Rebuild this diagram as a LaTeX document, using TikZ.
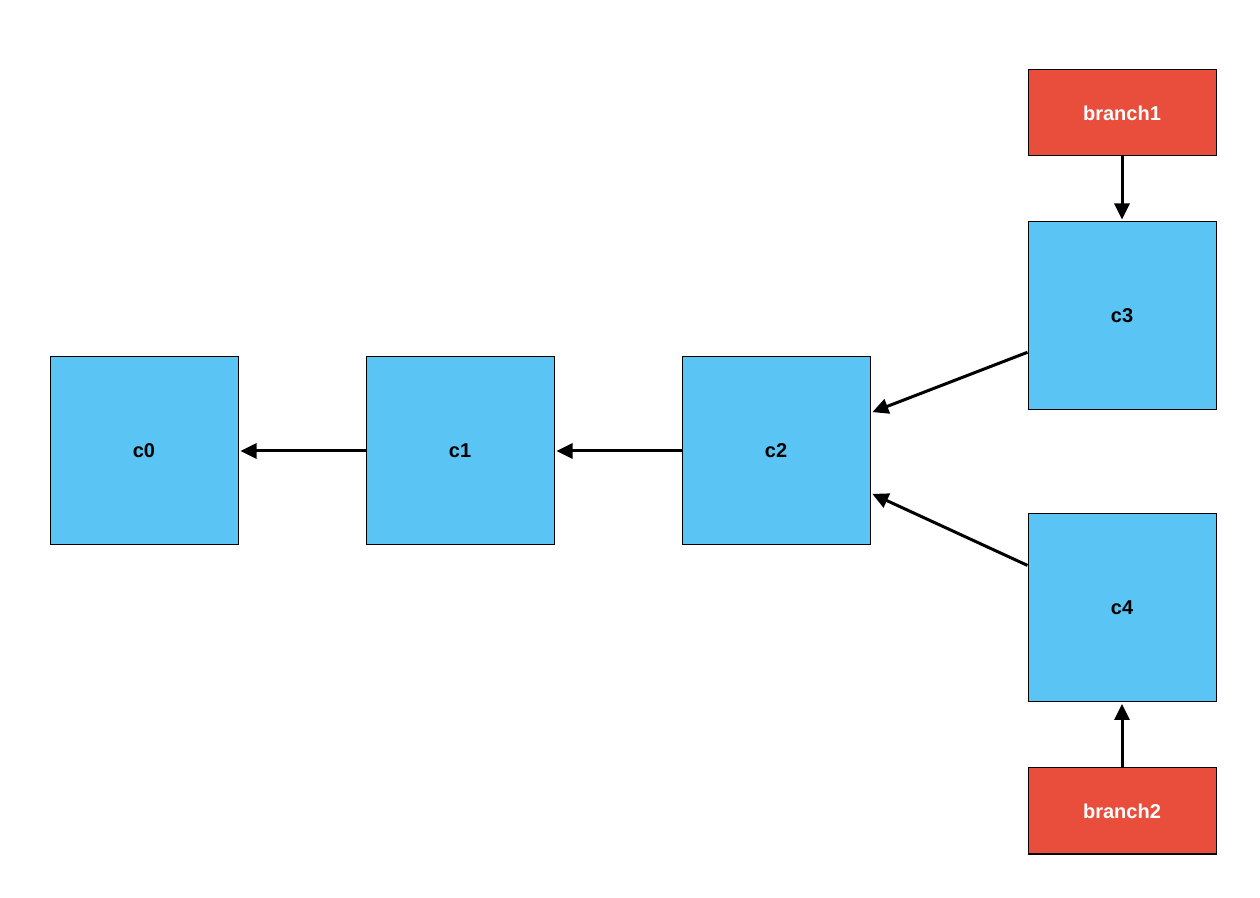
\documentclass[tikz,border=0pt]{standalone}
\usepackage{fontspec}
\setmainfont{Liberation Sans}
\usetikzlibrary{positioning,arrows.meta}
\definecolor{commitblue}{HTML}{5AC4F4}
\definecolor{branchred}{HTML}{E94E3D}
\tikzset{
    commit/.style={
        rectangle,
        draw=black,
        line width=0.5pt,
        fill=commitblue,
        minimum width=94pt,
        minimum height=94pt,
        font=\bfseries
    },
    branch/.style={
        rectangle,
        draw=black,
        line width=0.5pt,
        fill=branchred,
        text=white,
        minimum width=94pt,
        minimum height=43pt,
        font=\bfseries
    },
    arrow/.style={-{Triangle[length=8pt,width=7.5pt]}, line width=1.5pt, shorten >=1pt}
}

\begin{document}
\begin{tikzpicture}[x=0.5pt,y=-0.5pt]
    \useasboundingbox (0,0) rectangle (1260,898);
    % Commit
    \node[commit] (c0) at (144,451) {c0};
    \node[commit] (c1) at (460,451) {c1};
    \node[commit] (c2) at (776,451) {c2};
    \node[commit] (c3) at (1122,316) {c3};
    \node[commit] (c4) at (1122,607.5) {c4};

    % Rami
    \node[branch] (b1) at (1122,113) {branch1};
    \node[branch] (b2) at (1122,811) {branch2};

    % Frecce
    \draw[arrow] (c1) -- (c0);
    \draw[arrow] (c2) -- (c1);
    \draw[arrow] (c3.201) -- (c2.22);
    \draw[arrow] (c4.156) -- (c2.336);
    \draw[arrow] (b1) -- (c3);
    \draw[arrow] (b2) -- (c4);
\end{tikzpicture}
\end{document}
